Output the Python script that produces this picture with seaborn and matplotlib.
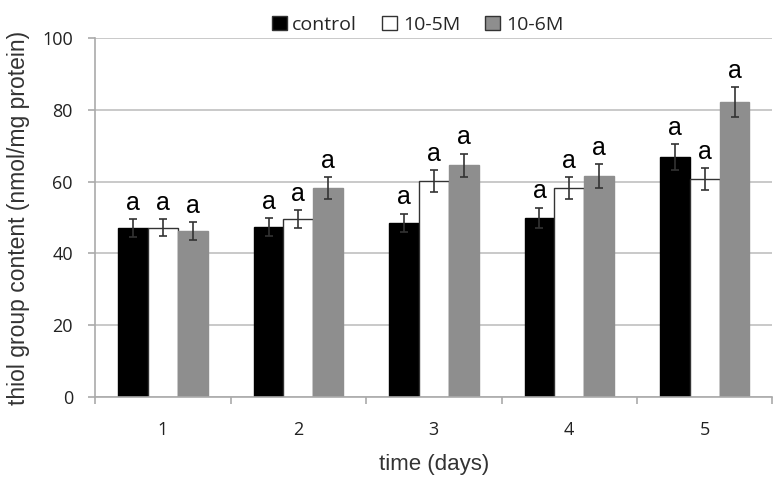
import pandas as pd
import numpy as np
import matplotlib
matplotlib.use("Agg")
import matplotlib.pyplot as plt
import seaborn as sns

# values
days = ["1", "2", "3", "4", "5"]
groups = ["control", "10-5M", "10-6M"]
control = [47.1, 47.4, 48.5, 49.9, 66.8]
m5 = [47.2, 49.6, 60.2, 58.2, 60.7]
m6 = [46.2, 58.2, 64.6, 61.5, 82.2]
control_err = [2.5, 2.5, 2.6, 2.8, 3.6]
m5_err = [2.4, 2.5, 3.0, 3.0, 3.0]
m6_err = [2.5, 3.0, 3.2, 3.3, 4.2]
letters = ["a"] * 15

values = [control, m5, m6]
errors = [control_err, m5_err, m6_err]
data = pd.DataFrame({
    "day": days * 3,
    "group": [g for g in groups for _ in days],
    "value": control + m5 + m6,
})

sns.set_style("white")
plt.rcParams["font.family"] = ["Open Sans", "DejaVu Sans"]

fig = plt.figure(figsize=(7.74, 4.78), dpi=100)
ax = fig.add_axes([0.123, 0.1695, 0.875, 0.751])

colors = ["black", "white", "#8e8e8e"]
sns.barplot(data=data, x="day", y="value", hue="group", order=days,
            hue_order=groups, palette=colors, width=0.66, saturation=1,
            errorbar=None, ax=ax, zorder=2)

# outline the white bars, add error bars and the letters
bar_sets = list(ax.containers)
for i, cont in enumerate(bar_sets):
    for j, bar in enumerate(cont):
        if groups[i] == "10-5M":
            bar.set_edgecolor("#333333")
            bar.set_linewidth(1.0)
        else:
            bar.set_edgecolor(colors[i])
        cx = bar.get_x() + bar.get_width() / 2
        h = values[i][j]
        e = errors[i][j]
        ax.errorbar(cx, h, yerr=e, fmt="none", ecolor="#333333",
                    elinewidth=1.2, capsize=2.8, capthick=1.2, zorder=3)
        ax.text(cx, h + e + 1.2, letters[i * 5 + j], ha="center", va="bottom",
                fontsize=18, family="Liberation Sans", color="black")

ax.set_ylim(0, 100)
ax.set_yticks(range(0, 101, 20))
ax.set_xlim(-0.5, 4.5)
ax.yaxis.grid(True, color="#c0c0c0", linewidth=1.2, zorder=0)
ax.set_axisbelow(True)

for s in ["top", "right"]:
    ax.spines[s].set_visible(False)
for s in ["left", "bottom"]:
    ax.spines[s].set_color("#aaaaaa")
    ax.spines[s].set_linewidth(1.2)

# category boundary ticks on x, small ticks on y
ax.set_xticks(np.arange(-0.5, 5, 1), minor=True)
ax.tick_params(axis="x", which="major", length=0, labelsize=13, pad=17)
ax.tick_params(axis="x", which="minor", length=5, color="#aaaaaa", width=1.2,
               direction="out", bottom=True)
ax.tick_params(axis="y", length=5, color="#aaaaaa", width=1.2, labelsize=13,
               pad=11, left=True)

ax.set_xlabel("time (days)", fontsize=16, family="Liberation Sans",
              color="#333333", labelpad=11)
ax.set_ylabel("thiol group content (nmol/mg protein)", fontsize=16.5,
              family="Liberation Sans", color="#333333", labelpad=9)
for lab in ax.get_xticklabels() + ax.get_yticklabels():
    lab.set_color("#222222")

handles, labels = ax.get_legend_handles_labels()
for h in handles:
    h.set_edgecolor("#333333")
ax.legend(handles, labels, loc="upper center", bbox_to_anchor=(0.476, 1.11),
          ncol=3, frameon=False, fontsize=14, handlelength=0.75,
          handleheight=0.75, handletextpad=0.3, columnspacing=1.3)

plt.savefig("out.png", dpi=100)
